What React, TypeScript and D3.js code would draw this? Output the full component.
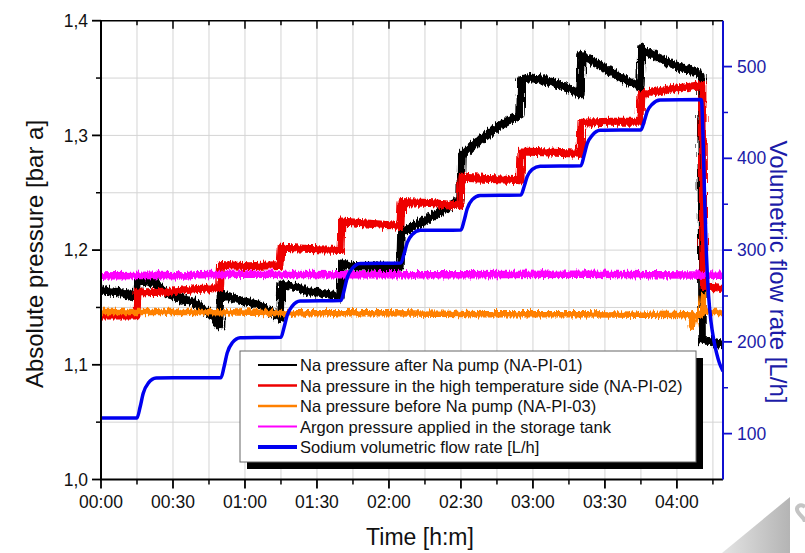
import React from 'react';
import * as d3 from 'd3';

const W = 805;
const H = 553;

// ---- tick labels ----
const xTickMinutes = [0, 30, 60, 90, 120, 150, 180, 210, 240];
const xTickLabels = ['00:00', '00:30', '01:00', '01:30', '02:00', '02:30', '03:00', '03:30', '04:00'];
const yLeftTicks = [1.0, 1.1, 1.2, 1.3, 1.4];
const yLeftLabels = ['1,0', '1,1', '1,2', '1,3', '1,4'];
const yRightTicks = [100, 200, 300, 400, 500];

// ---- series (time in minutes, value) ----
const naAfterPump: [number, number][] = [
  [0, 1.166], [4, 1.164], [8, 1.163], [11, 1.161], [14.8, 1.158],
  [15.2, 1.174], [19, 1.173], [23, 1.171], [26, 1.166], [29, 1.161], [34, 1.157], [38, 1.155],
  [41, 1.152], [44, 1.147], [47, 1.141], [49.6, 1.134],
  [50, 1.161], [54, 1.159], [58, 1.156], [62, 1.154], [66, 1.152], [70, 1.147], [74.8, 1.141],
  [75.2, 1.170], [80, 1.168], [87, 1.164], [94, 1.162], [99.8, 1.159],
  [100.2, 1.188], [105, 1.186], [112, 1.186], [120, 1.185], [124.8, 1.186],
  [125.2, 1.215], [129, 1.219], [133, 1.224], [137, 1.228], [141, 1.233], [145, 1.238], [149.8, 1.244],
  [150.2, 1.282], [154, 1.290], [158, 1.296], [162, 1.302], [166, 1.308], [170, 1.313], [174.8, 1.318],
  [175.2, 1.349], [180, 1.350], [187, 1.347], [194, 1.342], [199.8, 1.336],
  [200.2, 1.370], [204, 1.366], [208, 1.361], [212, 1.356], [216, 1.351], [220, 1.347], [224.8, 1.342],
  [225.2, 1.376], [229, 1.371], [233, 1.367], [237, 1.363], [241, 1.360], [245, 1.357], [249, 1.354], [250.2, 1.352],
  [250.7, 1.122], [255, 1.120], [259.2, 1.118],
];

const naHighTemp: [number, number][] = [
  [0, 1.143], [14.8, 1.143],
  [15.2, 1.163], [30, 1.164], [40, 1.166], [49.6, 1.167],
  [50, 1.187], [62, 1.186], [74.8, 1.187],
  [75.2, 1.202], [87, 1.201], [99.8, 1.200],
  [100.2, 1.225], [112, 1.223], [124.8, 1.221],
  [125.2, 1.242], [137, 1.241], [149.8, 1.239],
  [150.2, 1.263], [162, 1.262], [174.8, 1.261],
  [175.2, 1.286], [187, 1.285], [199.8, 1.284],
  [200.2, 1.311], [212, 1.312], [224.8, 1.312],
  [225.2, 1.336], [237, 1.340], [250.6, 1.344],
  [251.1, 1.168], [255, 1.167], [259.2, 1.166],
];

const naBeforePump: [number, number][] = [
  [0, 1.146], [40, 1.146], [80, 1.145], [120, 1.145], [160, 1.144], [200, 1.144],
  [240, 1.1435], [246, 1.143], [246.7, 1.134], [247.3, 1.143], [250.3, 1.144],
  [250.8, 1.160], [251.3, 1.147], [255, 1.146], [259.2, 1.146],
];

const argonTank: [number, number][] = [
  [0, 1.1775], [20, 1.178], [35, 1.1775], [40, 1.1785], [60, 1.179], [100, 1.1785],
  [150, 1.1785], [200, 1.179], [259.2, 1.178],
];

const sodiumFlow: [number, number][] = [
  [0, 117], [15, 117], [16.3, 129], [17.6, 144], [19.7, 155], [23, 160.5], [30, 161],
  [50, 161], [51.3, 173], [52.6, 188], [54.7, 199], [58, 204.5], [75, 205],
  [76.3, 216], [77.6, 229], [79.7, 239], [83, 244.5], [100, 245],
  [101.3, 256], [102.6, 270], [104.7, 280], [108, 285.5], [125, 286],
  [126.3, 296], [127.6, 308], [129.7, 317], [133, 321.5], [150, 322],
  [151.3, 332], [152.6, 345], [154.7, 355], [158, 359.5], [175, 360],
  [176.3, 369], [177.6, 380], [179.7, 388], [183, 391.5], [200, 392],
  [201.3, 403], [202.6, 416], [204.7, 425], [208, 430.5], [225, 431],
  [226.3, 440], [227.6, 451], [229.7, 459], [233, 463.5], [250, 464],
  [250.3, 462], [250.8, 430], [251.5, 360], [252.3, 295], [253.2, 250], [254.2, 222],
  [255.3, 203], [256.5, 188], [257.7, 177], [259.2, 168],
];

const legendLabels = [
  'Na pressure after Na pump (NA-PI-01)',
  'Na pressure in the high temperature side (NA-PI-02)',
  'Na pressure before Na pump (NA-PI-03)',
  'Argon pressure applied in the storage tank',
  'Sodium volumetric flow rate [L/h]',
];
const seriesColors = ['#000000', '#ee0000', '#ff8000', '#ff00ff', '#0000f0'];

const PL = 101, PR = 723, PT = 20.7, PB = 479.5;
const FONT = '"Liberation Sans", Arial, Helvetica, sans-serif';
const AXIS_BLUE = '#1010d0';
const TEXT_BLUE = '#1c1ca8';

export default function App() {
  const x = d3.scaleLinear().domain([0, 259.2]).range([PL, PR]);
  const yL = d3.scaleLinear().domain([1.0, 1.4]).range([PB, PT]);
  const yR = d3.scaleLinear().domain([50, 550]).range([PB, PT]);

  const lineL = d3.line<[number, number]>().x(d => x(d[0])).y(d => yL(d[1]));
  const lineR = d3.line<[number, number]>().x(d => x(d[0])).y(d => yR(d[1])).curve(d3.curveMonotoneX);

  const minorX = d3.range(15, 259, 30);
  const gridX = d3.range(15, 259, 15);
  const gridY = d3.range(1.05, 1.399, 0.05);
  const minorYL = d3.range(1.05, 1.4, 0.1);
  const minorYR = d3.range(150, 500, 100);

  const seriesL = [naAfterPump, naHighTemp, naBeforePump, argonTank];
  const coreWidths = [4.5, 4.5, 3.5, 4];
  const noisyWidths = [8.5, 8, 6.5, 7.5];

  const legendRows = [365, 385.5, 406, 426.5, 447];
  const legendWidths = [2, 2.5, 2.5, 2, 4];

  return (
    <svg width={W} height={H} style={{ position: 'absolute', left: 0, top: 0, background: '#fff' }}
      fontFamily={FONT}>
      <defs>
        <clipPath id="plotClip">
          <rect x={PL} y={PT} width={PR - PL} height={PB - PT} />
        </clipPath>
        <filter id="jitter" filterUnits="userSpaceOnUse" x={0} y={0} width={W} height={H}>
          <feTurbulence type="fractalNoise" baseFrequency="0.6 0.05" numOctaves={2} seed={4} result="t" />
          <feDisplacementMap in="SourceGraphic" in2="t" scale={8} xChannelSelector="R" yChannelSelector="G" />
        </filter>
        <linearGradient id="wm" x1="0" y1="0" x2="1" y2="0">
          <stop offset="0" stopColor="#e4e4e4" />
          <stop offset="1" stopColor="#b4b4b4" />
        </linearGradient>
      </defs>
      <rect x={0} y={0} width={W} height={H} fill="#fff" />

      {/* grid */}
      {gridX.map(t => (
        <line key={'gx' + t} x1={x(t)} x2={x(t)} y1={PT} y2={PB} stroke="#d4d4d4" strokeWidth={1} />
      ))}
      {gridY.map(v => (
        <line key={'gy' + v} x1={PL} x2={PR} y1={yL(v)} y2={yL(v)} stroke="#d4d4d4" strokeWidth={1} />
      ))}

      {/* series */}
      <g clipPath="url(#plotClip)">
        {seriesL.map((s, i) => (
          <g key={'s' + i}>
            <path d={lineL(s) || ''} fill="none" stroke={seriesColors[i]}
              strokeWidth={noisyWidths[i]} strokeLinejoin="round" filter="url(#jitter)" />
            <path d={lineL(s) || ''} fill="none" stroke={seriesColors[i]}
              strokeWidth={coreWidths[i]} strokeLinejoin="round" />
          </g>
        ))}
        <path d={lineR(sodiumFlow) || ''} fill="none" stroke={seriesColors[4]} strokeWidth={3.5}
          strokeLinejoin="round" />
      </g>

      {/* legend */}
      <rect x={247} y={358} width={456} height={111} fill="#000" />
      <rect x={240} y={351} width={456} height={111} fill="#fff" stroke="#666" strokeWidth={1} />
      {legendLabels.map((lab, i) => (
        <g key={'lg' + i}>
          <line x1={258} x2={297} y1={legendRows[i]} y2={legendRows[i]} stroke={seriesColors[i]}
            strokeWidth={legendWidths[i]} />
          <text x={300} y={legendRows[i] + 6} fontSize={16.5} fill="#111">{lab}</text>
        </g>
      ))}

      {/* frame: top */}
      <line x1={PL} x2={PR} y1={PT} y2={PT} stroke="#000" strokeWidth={1.5} />
      {xTickMinutes.map(t => (
        <line key={'tt' + t} x1={x(t)} x2={x(t)} y1={PT} y2={PT + 8} stroke="#000" strokeWidth={1.5} />
      ))}
      {minorX.map(t => (
        <line key={'ttm' + t} x1={x(t)} x2={x(t)} y1={PT} y2={PT + 4.5} stroke="#000" strokeWidth={1.5} />
      ))}

      {/* bottom axis */}
      <line x1={PL - 1} x2={PR} y1={PB} y2={PB} stroke="#000" strokeWidth={2} />
      {xTickMinutes.map((t, i) => (
        <g key={'bx' + t}>
          <line x1={x(t)} x2={x(t)} y1={PB} y2={PB + 9} stroke="#000" strokeWidth={1.8} />
          <text x={x(t)} y={PB + 28} fontSize={17.5} textAnchor="middle" fill="#111">{xTickLabels[i]}</text>
        </g>
      ))}
      {minorX.map(t => (
        <line key={'bxm' + t} x1={x(t)} x2={x(t)} y1={PB} y2={PB + 5} stroke="#000" strokeWidth={1.5} />
      ))}
      <text x={420} y={545} fontSize={23} textAnchor="middle" fill="#111">Time [h:m]</text>

      {/* left axis */}
      <line x1={PL} x2={PL} y1={PT} y2={PB} stroke="#000" strokeWidth={2} />
      {yLeftTicks.map((v, i) => (
        <g key={'yl' + v}>
          <line x1={PL - 9} x2={PL} y1={yL(v)} y2={yL(v)} stroke="#000" strokeWidth={1.8} />
          <text x={PL - 13} y={yL(v)} dy="0.35em" fontSize={17.5} textAnchor="end" fill="#111">{yLeftLabels[i]}</text>
        </g>
      ))}
      {minorYL.map(v => (
        <line key={'ylm' + v} x1={PL - 5} x2={PL} y1={yL(v)} y2={yL(v)} stroke="#000" strokeWidth={1.5} />
      ))}
      <text transform={`translate(43,254) rotate(-90)`} fontSize={24} textAnchor="middle" fill="#111">
        Absolute pressure [bar a]
      </text>

      {/* right axis */}
      <line x1={PR} x2={PR} y1={PT} y2={PB} stroke={AXIS_BLUE} strokeWidth={2} />
      {yRightTicks.map(v => (
        <g key={'yr' + v}>
          <line x1={PR} x2={PR + 9} y1={yR(v)} y2={yR(v)} stroke={AXIS_BLUE} strokeWidth={1.8} />
          <text x={PR + 14} y={yR(v)} dy="0.35em" fontSize={17.5} fill={TEXT_BLUE}>{v}</text>
        </g>
      ))}
      {minorYR.map(v => (
        <line key={'yrm' + v} x1={PR} x2={PR + 5} y1={yR(v)} y2={yR(v)} stroke={AXIS_BLUE} strokeWidth={1.5} />
      ))}
      <text transform={`translate(770,272) rotate(90)`} fontSize={24} textAnchor="middle" fill={TEXT_BLUE}>
        Volumetric flow rate [L/h]
      </text>

      {/* watermark corner (logo fragment) */}
      <polygon points="722,553 790,497 790,553" fill="url(#wm)" />
      <path d="M805,507 C800,503 795,507 798,512 C801,517 805,518 805,522" fill="none" stroke="#c4c4c4" strokeWidth={4} />
    </svg>
  );
}
